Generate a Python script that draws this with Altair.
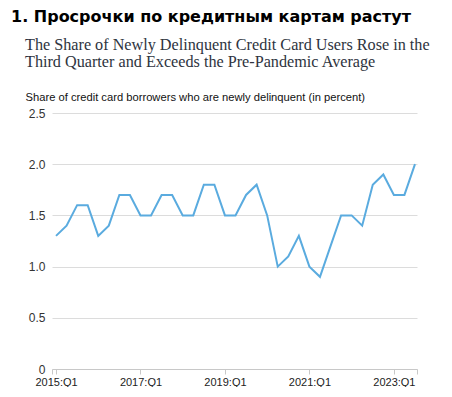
import altair as alt
import pandas as pd

quarters = [f"{y}:Q{q}" for y in range(2015, 2024) for q in range(1, 5)][:35]
values = [1.3, 1.4, 1.6, 1.6, 1.3, 1.4, 1.7, 1.7,
          1.5, 1.5, 1.7, 1.7, 1.5, 1.5, 1.8, 1.8,
          1.5, 1.5, 1.7, 1.8, 1.5, 1.0, 1.1, 1.3,
          1.0, 0.9, 1.2, 1.5, 1.5, 1.4, 1.8, 1.9,
          1.7, 1.7, 2.0]
tick_labels = ["2015:Q1", "2017:Q1", "2019:Q1", "2021:Q1", "2023:Q1"]
y_ticks = [0, 0.5, 1.0, 1.5, 2.0, 2.5]

df = pd.DataFrame({"idx": list(range(len(values))), "quarter": quarters, "value": values})

tick_idx = [quarters.index(t) for t in tick_labels]
label_map = "{" + ",".join(f"'{i}':'{t}'" for i, t in zip(tick_idx, tick_labels)) + "}"

inner = alt.Chart(df).mark_line(color="#5aabdf", strokeWidth=2).encode(
    x=alt.X("idx:Q",
            scale=alt.Scale(domain=[-0.38, 34.19], nice=False, zero=False),
            axis=alt.Axis(values=[-0.38] + tick_idx + [34.19],
                          labelExpr=f"{label_map}[''+datum.value] || ''",
                          title=None, grid=False, domainColor="#c8c8c8",
                          tickColor="#c8c8c8", tickSize=5, labelFontSize=11,
                          labelColor="#222", labelFont="Liberation Sans",
                          labelPadding=2, labelFlush=False)),
    y=alt.Y("value:Q",
            scale=alt.Scale(domain=[0, 2.5], nice=False),
            axis=alt.Axis(values=y_ticks,
                          labelExpr="datum.value == 0 ? '0' : format(datum.value, '.1f')",
                          title="Share of credit card borrowers who are newly delinquent (in percent)",
                          titleAngle=0, titleAnchor="start", titleAlign="left",
                          titleBaseline="alphabetic",
                          titleX=-27, titleY=-13, titleFont="Liberation Sans",
                          titleFontSize=11.2, titleFontWeight="normal", titleColor="#111",
                          domain=False, ticks=False, gridColor="#dcdcdc",
                          labelFontSize=12, labelColor="#333", labelFont="Liberation Sans",
                          labelPadding=7)),
).properties(
    width=365, height=256,
    title=alt.TitleParams(
        text=["The Share of Newly Delinquent Credit Card Users Rose in the",
              "Third Quarter and Exceeds the Pre-Pandemic Average"],
        anchor="start", frame="group", orient="top",
        font="Liberation Serif", fontSize=16.2, fontWeight="normal", color="#2e3440",
        lineHeight=17, dx=-27, offset=21,
    ),
)

chart = alt.vconcat(inner).properties(
    title=alt.TitleParams(
        text="1. Просрочки по кредитным картам растут",
        anchor="start", frame="group", orient="top",
        font="DejaVu Sans", fontSize=16, fontWeight="bold", color="#000",
        dx=-41, offset=12,
    ),
    padding={"left": 3, "top": 0, "right": 5, "bottom": 0},
).configure_view(stroke=None)

chart.save("out.html", embed_options={"renderer": "svg", "actions": False})
